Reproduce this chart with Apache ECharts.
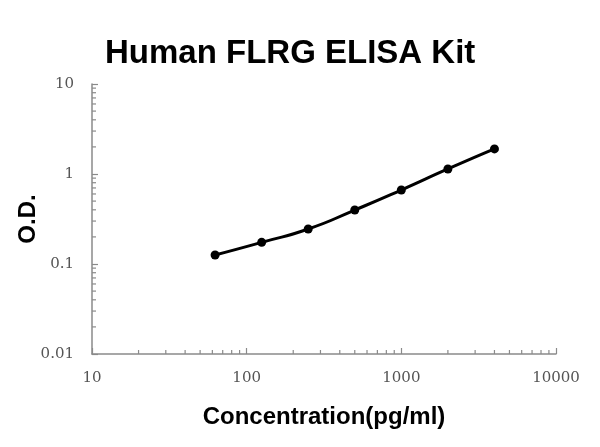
<!DOCTYPE html>
<html>
<head>
<meta charset="utf-8">
<script src="https://cdn.jsdelivr.net/npm/echarts@6/dist/echarts.min.js"></script>
<style>
  html, body { margin: 0; padding: 0; background: #fff; }
  #chart { width: 600px; height: 447px; }
</style>
</head>
<body>
<div id="chart"></div>
<script>
// 标准曲线数据
const concentration = [62.5, 125, 250, 500, 1000, 2000, 4000]
const od = [0.126, 0.174, 0.245, 0.398, 0.664, 1.137, 1.90]

// 对数轴的次刻度位置
const xMinorTicks = [20, 30, 40, 50, 60, 70, 80, 90, 200, 300, 400, 500, 600, 700, 800, 900,
  2000, 3000, 4000, 5000, 6000, 7000, 8000, 9000]
const yMinorTicks = [0.02, 0.03, 0.04, 0.05, 0.06, 0.07, 0.08, 0.09, 0.2, 0.3, 0.4, 0.5, 0.6, 0.7, 0.8, 0.9,
  2, 3, 4, 5, 6, 7, 8, 9]

const axisColor = '#8a8a8a'
const labelFont = 'DejaVu Serif'

const chart = echarts.init(document.getElementById('chart'))

// 次刻度用自定义系列画短线
function minorTickItem(dir) {
  return function (params, api) {
    const p = api.coord([api.value(0), api.value(1)])
    const len = 4
    const shape = dir === 'x'
      ? { x1: p[0], y1: p[1], x2: p[0], y2: p[1] - len }
      : { x1: p[0], y1: p[1], x2: p[0] + len, y2: p[1] }
    return {
      type: 'line',
      shape: shape,
      style: { stroke: axisColor, lineWidth: 1.2 }
    }
  }
}

chart.setOption({
  animation: false,
  title: {
    text: 'Human FLRG ELISA Kit',
    left: 100,
    top: 32,
    textStyle: { fontFamily: 'Liberation Sans', fontSize: 33, fontWeight: 'bold', color: '#000' }
  },
  grid: { left: 92, right: 44, top: 84, bottom: 93, outerBoundsMode: 'none', containLabel: false },
  xAxis: {
    type: 'log',
    logBase: 10,
    min: 10,
    max: 10000,
    name: 'Concentration(pg/ml)',
    nameLocation: 'middle',
    nameGap: 51,
    nameTextStyle: { fontFamily: 'Liberation Sans', fontSize: 24, fontWeight: 'bold', color: '#000' },
    axisLine: { lineStyle: { color: axisColor, width: 1.5 } },
    axisTick: { inside: true, length: 6, lineStyle: { color: axisColor, width: 1.2 } },
    axisLabel: {
      fontFamily: labelFont, fontSize: 15, color: '#555', margin: 17,
      formatter: v => String(v)
    },
    splitLine: { show: false }
  },
  yAxis: {
    type: 'log',
    logBase: 10,
    min: 0.01,
    max: 10,
    name: 'O.D.',
    nameLocation: 'middle',
    nameGap: 52,
    nameMoveOverlap: false,
    nameTextStyle: { fontFamily: 'Liberation Sans', fontSize: 24, fontWeight: 'bold', color: '#000' },
    axisLine: { show: true, lineStyle: { color: axisColor, width: 1.5 } },
    axisTick: { show: true, inside: true, length: 6, lineStyle: { color: axisColor, width: 1.2 } },
    axisLabel: {
      fontFamily: labelFont, fontSize: 15, color: '#555', margin: 18,
      formatter: v => String(v)
    },
    splitLine: { show: false }
  },
  series: [
    {
      type: 'custom',
      silent: true,
      renderItem: minorTickItem('x'),
      data: xMinorTicks.map(v => [v, 0.01]),
      z: 1
    },
    {
      type: 'custom',
      silent: true,
      renderItem: minorTickItem('y'),
      data: yMinorTicks.map(v => [10, v]),
      z: 1
    },
    {
      type: 'line',
      data: concentration.map((c, i) => [c, od[i]]),
      smooth: 0.6,
      symbol: 'circle',
      symbolSize: 9,
      lineStyle: { color: '#000', width: 3 },
      itemStyle: { color: '#000' },
      z: 3
    }
  ]
})
</script>
</body>
</html>
